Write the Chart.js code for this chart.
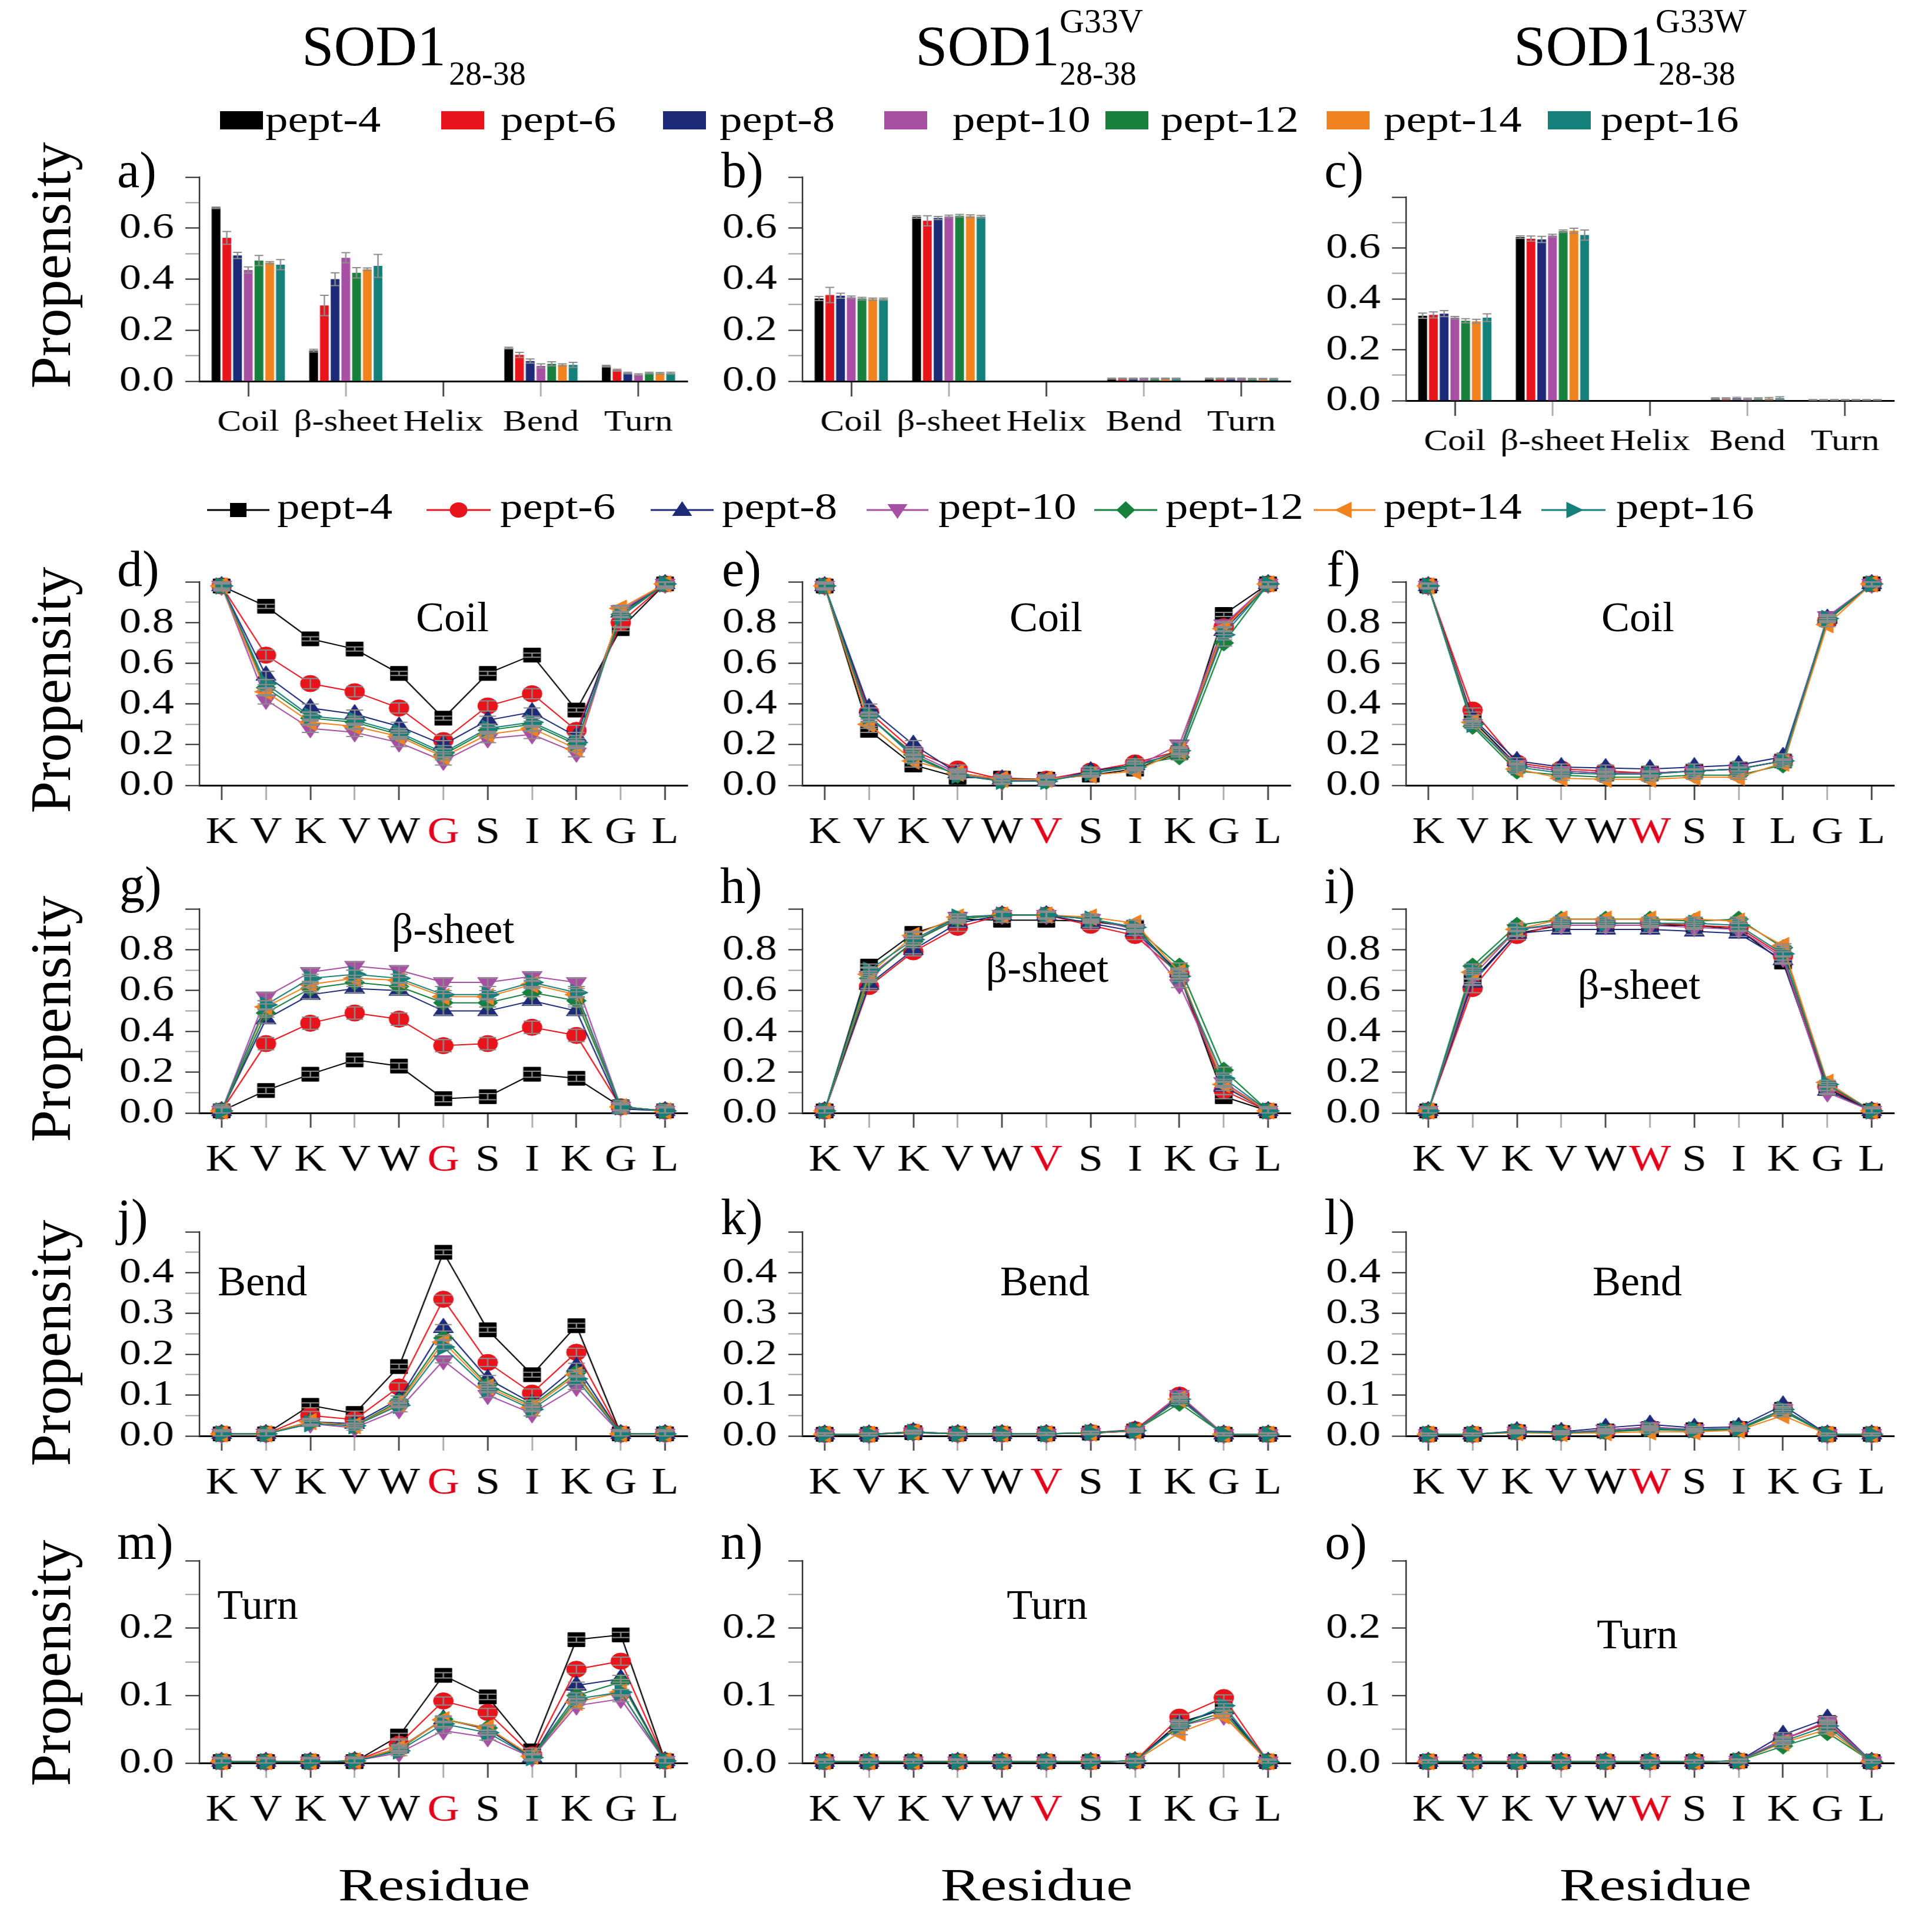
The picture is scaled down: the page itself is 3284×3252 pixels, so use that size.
<!DOCTYPE html>
<html><head><meta charset="utf-8">
<script src="https://cdn.jsdelivr.net/npm/chart.js@4.4.1/dist/chart.umd.min.js"></script>
<style>
html,body{margin:0;padding:0;background:#fff;}
body{width:3284px;height:3252px;position:relative;overflow:hidden;font-family:'Liberation Serif','Times New Roman',serif;}
.t{position:absolute;white-space:nowrap;line-height:1;color:#000;}
canvas{position:absolute;}
svg{position:absolute;left:0;top:0;}
</style></head><body>
<script>
// ---------------- DATA ----------------
const seriesNames = ['pept-4','pept-6','pept-8','pept-10','pept-12','pept-14','pept-16'];
const structCats = ['Coil','β-sheet','Helix','Bend','Turn'];
const residuesWT = ['K','V','K','V','W','G','S','I','K','G','L'];
const residuesV  = ['K','V','K','V','W','V','S','I','K','G','L'];
const residuesWcoil = ['K','V','K','V','W','W','S','I','L','G','L'];
const residuesW  = ['K','V','K','V','W','W','S','I','K','G','L'];

// bar panels (a,b,c): rows = series, columns = Coil, β-sheet, Helix, Bend, Turn
const barWT = [
 [0.680,0.120,0,0.130,0.059],
 [0.562,0.297,0,0.103,0.043],
 [0.493,0.400,0,0.079,0.032],
 [0.436,0.484,0,0.060,0.026],
 [0.473,0.425,0,0.068,0.032],
 [0.465,0.439,0,0.064,0.031],
 [0.457,0.452,0,0.064,0.031]];
const barV = [
 [0.324,0.644,0,0.010,0.010],
 [0.338,0.629,0,0.010,0.010],
 [0.335,0.640,0,0.010,0.010],
 [0.329,0.646,0,0.010,0.010],
 [0.324,0.649,0,0.010,0.009],
 [0.322,0.647,0,0.010,0.009],
 [0.322,0.645,0,0.010,0.009]];
const barW = [
 [0.334,0.643,0,0.008,0.003],
 [0.337,0.637,0,0.008,0.003],
 [0.342,0.634,0,0.009,0.003],
 [0.326,0.649,0,0.007,0.003],
 [0.314,0.666,0,0.008,0.003],
 [0.312,0.668,0,0.008,0.003],
 [0.326,0.651,0,0.010,0.003]];
const errBarWT = [
 [0.003,0.005,0,0.003,0.003],
 [0.025,0.040,0,0.010,0.004],
 [0.012,0.025,0,0.008,0.003],
 [0.012,0.020,0,0.008,0.003],
 [0.020,0.020,0,0.008,0.003],
 [0.004,0.005,0,0.004,0.003],
 [0.020,0.045,0,0.010,0.004]];
const errBarV = [
 [0.008,0.005,0,0.002,0.002],
 [0.030,0.020,0,0.002,0.002],
 [0.010,0.006,0,0.002,0.002],
 [0.005,0.005,0,0.002,0.002],
 [0.005,0.005,0,0.002,0.002],
 [0.004,0.005,0,0.002,0.002],
 [0.004,0.005,0,0.002,0.002]];
const errBarW = [
 [0.010,0.005,0,0.003,0.001],
 [0.012,0.010,0,0.003,0.001],
 [0.012,0.012,0,0.004,0.001],
 [0.005,0.005,0,0.003,0.001],
 [0.008,0.005,0,0.003,0.001],
 [0.008,0.010,0,0.004,0.001],
 [0.015,0.020,0,0.005,0.001]];

// line panels: rows = series, 11 residues each
const coilWT = [
 [0.98,0.88,0.72,0.67,0.55,0.33,0.55,0.64,0.37,0.77,0.99],
 [0.98,0.64,0.50,0.46,0.38,0.22,0.39,0.45,0.27,0.80,0.99],
 [0.98,0.54,0.38,0.35,0.29,0.20,0.32,0.36,0.24,0.85,0.99],
 [0.98,0.42,0.28,0.26,0.21,0.12,0.23,0.25,0.16,0.86,0.99],
 [0.98,0.48,0.33,0.31,0.25,0.15,0.27,0.30,0.20,0.84,0.99],
 [0.98,0.46,0.31,0.29,0.24,0.14,0.25,0.28,0.18,0.87,0.99],
 [0.98,0.50,0.34,0.32,0.26,0.16,0.28,0.31,0.21,0.83,0.99]];
const coilV = [
 [0.98,0.27,0.10,0.04,0.035,0.03,0.05,0.08,0.16,0.84,0.99],
 [0.98,0.36,0.17,0.08,0.03,0.03,0.07,0.11,0.17,0.78,0.99],
 [0.98,0.38,0.20,0.06,0.03,0.02,0.07,0.10,0.16,0.76,0.99],
 [0.98,0.33,0.16,0.06,0.02,0.03,0.06,0.09,0.20,0.79,0.99],
 [0.98,0.34,0.15,0.05,0.02,0.02,0.06,0.10,0.14,0.70,0.99],
 [0.98,0.30,0.12,0.06,0.03,0.03,0.05,0.07,0.17,0.77,0.99],
 [0.98,0.34,0.14,0.05,0.02,0.02,0.06,0.09,0.17,0.74,0.99]];
const coilW = [
 [0.98,0.32,0.10,0.07,0.06,0.06,0.07,0.08,0.12,0.82,0.99],
 [0.98,0.37,0.11,0.08,0.07,0.06,0.07,0.08,0.12,0.81,0.99],
 [0.98,0.33,0.12,0.09,0.085,0.08,0.09,0.10,0.14,0.82,0.99],
 [0.98,0.30,0.10,0.07,0.06,0.06,0.07,0.08,0.12,0.83,0.99],
 [0.98,0.29,0.07,0.05,0.04,0.04,0.05,0.05,0.10,0.81,0.99],
 [0.98,0.31,0.08,0.035,0.03,0.03,0.04,0.04,0.11,0.79,0.99],
 [0.98,0.30,0.09,0.06,0.055,0.055,0.07,0.08,0.12,0.82,0.99]];
const sheetWT = [
 [0.01,0.11,0.19,0.26,0.23,0.07,0.08,0.19,0.17,0.03,0.01],
 [0.01,0.34,0.44,0.49,0.46,0.33,0.34,0.42,0.38,0.03,0.01],
 [0.01,0.46,0.58,0.61,0.60,0.50,0.50,0.55,0.50,0.02,0.01],
 [0.01,0.57,0.69,0.72,0.70,0.64,0.64,0.67,0.64,0.03,0.01],
 [0.01,0.49,0.61,0.64,0.62,0.54,0.54,0.59,0.55,0.03,0.01],
 [0.01,0.52,0.63,0.66,0.65,0.57,0.57,0.63,0.58,0.03,0.01],
 [0.01,0.53,0.66,0.68,0.66,0.58,0.58,0.64,0.59,0.03,0.01]];
const sheetV = [
 [0.01,0.72,0.88,0.95,0.945,0.945,0.94,0.91,0.68,0.08,0.01],
 [0.01,0.62,0.79,0.91,0.97,0.97,0.92,0.87,0.68,0.11,0.01],
 [0.01,0.63,0.80,0.93,0.97,0.97,0.93,0.89,0.69,0.13,0.01],
 [0.01,0.67,0.84,0.96,0.97,0.97,0.95,0.90,0.63,0.15,0.01],
 [0.01,0.66,0.84,0.95,0.97,0.97,0.95,0.91,0.72,0.21,0.01],
 [0.01,0.68,0.87,0.96,0.97,0.97,0.96,0.93,0.69,0.14,0.01],
 [0.01,0.70,0.85,0.96,0.97,0.97,0.95,0.91,0.67,0.17,0.01]];
const sheetW = [
 [0.01,0.65,0.88,0.92,0.92,0.92,0.92,0.90,0.74,0.12,0.01],
 [0.01,0.61,0.87,0.93,0.93,0.93,0.92,0.91,0.77,0.13,0.01],
 [0.01,0.64,0.88,0.90,0.90,0.90,0.89,0.88,0.75,0.11,0.01],
 [0.01,0.67,0.90,0.92,0.92,0.92,0.91,0.90,0.76,0.10,0.01],
 [0.01,0.72,0.92,0.95,0.95,0.95,0.94,0.95,0.81,0.14,0.01],
 [0.01,0.69,0.90,0.95,0.95,0.95,0.95,0.94,0.82,0.15,0.01],
 [0.01,0.70,0.90,0.93,0.93,0.93,0.93,0.92,0.78,0.14,0.01]];
const bendWT = [
 [0.005,0.005,0.075,0.055,0.17,0.45,0.26,0.15,0.27,0.005,0.005],
 [0.005,0.005,0.050,0.040,0.12,0.335,0.18,0.105,0.205,0.005,0.005],
 [0.005,0.005,0.035,0.030,0.09,0.265,0.14,0.08,0.17,0.005,0.005],
 [0.005,0.005,0.030,0.020,0.065,0.185,0.10,0.055,0.12,0.005,0.005],
 [0.005,0.005,0.035,0.025,0.085,0.24,0.125,0.075,0.155,0.005,0.005],
 [0.005,0.005,0.035,0.025,0.08,0.23,0.12,0.07,0.15,0.005,0.005],
 [0.005,0.005,0.030,0.025,0.075,0.218,0.115,0.065,0.14,0.005,0.005]];
const bendV = [
 [0.004,0.004,0.008,0.005,0.005,0.005,0.007,0.012,0.090,0.004,0.004],
 [0.004,0.004,0.010,0.005,0.005,0.005,0.008,0.015,0.100,0.004,0.004],
 [0.004,0.004,0.010,0.005,0.005,0.005,0.008,0.014,0.095,0.004,0.004],
 [0.004,0.004,0.008,0.005,0.005,0.005,0.007,0.012,0.100,0.004,0.004],
 [0.004,0.004,0.008,0.005,0.005,0.005,0.008,0.013,0.080,0.004,0.004],
 [0.004,0.004,0.009,0.005,0.005,0.005,0.007,0.012,0.090,0.004,0.004],
 [0.004,0.004,0.009,0.005,0.005,0.005,0.008,0.013,0.090,0.004,0.004]];
const bendW = [
 [0.004,0.004,0.010,0.008,0.012,0.018,0.015,0.018,0.065,0.004,0.004],
 [0.004,0.004,0.010,0.008,0.012,0.020,0.015,0.018,0.065,0.004,0.004],
 [0.004,0.004,0.012,0.010,0.020,0.028,0.020,0.022,0.075,0.004,0.004],
 [0.004,0.004,0.010,0.008,0.015,0.022,0.016,0.018,0.065,0.004,0.004],
 [0.004,0.004,0.010,0.007,0.010,0.015,0.013,0.016,0.060,0.004,0.004],
 [0.004,0.004,0.008,0.006,0.008,0.010,0.010,0.014,0.050,0.004,0.004],
 [0.004,0.004,0.010,0.008,0.012,0.018,0.015,0.018,0.065,0.004,0.004]];
const turnWT = [
 [0.002,0.002,0.002,0.002,0.040,0.130,0.098,0.018,0.183,0.190,0.003],
 [0.002,0.002,0.002,0.003,0.028,0.092,0.075,0.012,0.139,0.151,0.003],
 [0.002,0.002,0.002,0.003,0.022,0.065,0.050,0.008,0.115,0.125,0.003],
 [0.002,0.002,0.002,0.003,0.015,0.048,0.038,0.008,0.085,0.095,0.003],
 [0.002,0.002,0.002,0.003,0.020,0.065,0.052,0.010,0.100,0.120,0.003],
 [0.002,0.002,0.002,0.003,0.022,0.064,0.052,0.010,0.090,0.105,0.003],
 [0.002,0.002,0.002,0.003,0.018,0.058,0.045,0.008,0.095,0.105,0.003]];
const turnV = [
 [0.002,0.002,0.002,0.002,0.002,0.002,0.002,0.003,0.060,0.080,0.002],
 [0.002,0.002,0.002,0.002,0.002,0.002,0.002,0.003,0.068,0.097,0.002],
 [0.002,0.002,0.002,0.002,0.002,0.002,0.002,0.003,0.058,0.080,0.002],
 [0.002,0.002,0.002,0.002,0.002,0.002,0.002,0.003,0.055,0.070,0.002],
 [0.002,0.002,0.002,0.002,0.002,0.002,0.002,0.003,0.055,0.075,0.002],
 [0.002,0.002,0.002,0.002,0.002,0.002,0.002,0.003,0.045,0.070,0.002],
 [0.002,0.002,0.002,0.002,0.002,0.002,0.002,0.003,0.055,0.085,0.002]];
const turnW = [
 [0.002,0.002,0.002,0.002,0.002,0.002,0.002,0.003,0.035,0.060,0.002],
 [0.002,0.002,0.002,0.002,0.002,0.002,0.002,0.003,0.035,0.060,0.002],
 [0.002,0.002,0.002,0.002,0.002,0.002,0.002,0.003,0.042,0.066,0.002],
 [0.002,0.002,0.002,0.002,0.002,0.002,0.002,0.003,0.035,0.062,0.002],
 [0.002,0.002,0.002,0.002,0.002,0.002,0.002,0.003,0.025,0.045,0.002],
 [0.002,0.002,0.002,0.002,0.002,0.002,0.002,0.003,0.030,0.050,0.002],
 [0.002,0.002,0.002,0.002,0.002,0.002,0.002,0.003,0.032,0.055,0.002]];
// per-series error bar size of line panels
const errCoilWT  = [0.010,0.025,0.020,0.020,0.015,0.015,0.020];
const errCoilV   = [0.010,0.020,0.020,0.015,0.015,0.010,0.015];
const errCoilW   = [0.010,0.010,0.015,0.010,0.010,0.010,0.010];
const errSheetWT = [0.015,0.030,0.020,0.020,0.020,0.015,0.020];
const errSheetV  = [0.010,0.020,0.020,0.015,0.015,0.015,0.015];
const errSheetW  = [0.010,0.020,0.015,0.010,0.010,0.010,0.010];
const errBendWT  = [0.006,0.010,0.008,0.006,0.006,0.006,0.006];
const errBendV   = [0.003,0.004,0.003,0.003,0.003,0.003,0.003];
const errBendW   = [0.003,0.003,0.003,0.003,0.003,0.003,0.003];
const errTurnWT  = [0.004,0.006,0.005,0.004,0.004,0.004,0.004];
const errTurnV   = [0.002,0.004,0.003,0.003,0.003,0.003,0.003];
const errTurnW   = [0.002,0.002,0.003,0.002,0.002,0.002,0.002];

// ---------------- STYLE ----------------
const colors = ['#000000','#e8141c','#1c2a78','#a64fa3','#16803c','#f0821f','#157f7a'];
const pStyles = ['rect','circle','triangle','triangle','rectRot','triangle','triangle'];
const pRots = [0,0,0,180,0,270,90];
const pRadii = [17,14,16.5,16.5,14,16.5,16.5];

Chart.defaults.font.family = "'Liberation Serif','Times New Roman',serif";
Chart.defaults.color = '#000';

const S=1.2, YW=120, PR=60, PT=45, XH=130;
const colL=[339,1364,2390], colR=[1168,2193,3219];
function isMajor(v,m){const q=v/m;return Math.abs(q-Math.round(q))<1e-6;}

const errPlugin={id:'errbars',afterDatasetsDraw(chart){
  const ctx=chart.ctx, ys=chart.scales.y;
  ctx.save(); ctx.strokeStyle='#8c8c8c'; ctx.lineWidth=2;
  chart.data.datasets.forEach((ds,di)=>{
    const meta=chart.getDatasetMeta(di);
    meta.data.forEach((el,i)=>{
      const e=Array.isArray(ds.errs)?ds.errs[i]:ds.errs; if(!e) return;
      const v=ds.data[i];
      const yt=ys.getPixelForValue(Math.min(v+e,ys.max)), yb=ys.getPixelForValue(Math.max(v-e,ys.min));
      const h=ds.capHalf||el.width/2;
      ctx.beginPath();
      ctx.moveTo(el.x,yt);ctx.lineTo(el.x,yb);
      ctx.moveTo(el.x-h,yt);ctx.lineTo(el.x+h,yt);
      ctx.moveTo(el.x-h,yb);ctx.lineTo(el.x+h,yb);
      ctx.stroke();
    });
  });
  ctx.restore();
}};

function build(p){
  const plotW=(colR[p.col]-colL[p.col])/S;
  const W=Math.round(YW+plotW+PR), H=Math.round(PT+(p.bottom-p.top)+XH);
  const c=document.createElement('canvas'); c.width=W; c.height=H;
  c.style.left=(colL[p.col]-YW*S)+'px'; c.style.top=(p.top-PT)+'px';
  c.style.width=W+'px'; c.style.height=H+'px';
  c.style.transform='scaleX('+S+')'; c.style.transformOrigin='0 0';
  document.body.appendChild(c);
  const isBar=p.type==='bar';
  const datasets=p.data.map((vals,i)=>{
    const base={label:seriesNames[i],data:vals,errs:p.err[i]};
    if(isBar) return Object.assign(base,{backgroundColor:colors[i],borderWidth:0,barPercentage:0.82,categoryPercentage:0.77});
    return Object.assign(base,{borderColor:colors[i],backgroundColor:colors[i],borderWidth:2,
      pointStyle:pStyles[i],pointRotation:pRots[i],pointRadius:pRadii[i],pointBorderWidth:1,
      pointBorderColor:colors[i],pointBackgroundColor:colors[i],tension:0,clip:false,order:6-i,capHalf:12});
  });
  new Chart(c,{type:p.type,data:{labels:p.labels,datasets},options:{
    responsive:false,animation:false,events:[],devicePixelRatio:1,
    layout:{padding:{top:PT,right:PR,left:0,bottom:0}},
    plugins:{legend:{display:false},tooltip:{enabled:false}},
    scales:{
      x:{offset:true,afterFit:s=>{s.height=XH;},
        ticks:{autoSkip:false,maxRotation:0,minRotation:0,padding:isBar?14:19,font:{size:isBar?51:63},
          color:ctx=>ctx.index===p.hi?'#e3001b':'#000'},
        grid:{offset:false,drawOnChartArea:false,drawTicks:true,tickLength:isBar?26:25,tickWidth:2,
          tickColor:ctx=>ctx.index%2?'#9a9a9a':'#222'},
        border:{display:true,color:'#000',width:3}},
      y:{min:0,max:p.max,afterFit:s=>{s.width=YW;},
        ticks:{stepSize:p.minor,autoSkip:false,padding:16,font:{size:62},
          callback:v=>(isMajor(v,p.major)&&v<p.max-1e-9)?v.toFixed(1):''},
        grid:{drawOnChartArea:false,drawTicks:true,tickLength:20,tickWidth:2,
          tickColor:ctx=>isMajor(ctx.tick.value,p.major)?'#222':'#9a9a9a'},
        border:{display:true,color:'#333',width:2}}
    }},plugins:[errPlugin]});
}

const panels=[
 {type:'bar',data:barWT,err:errBarWT,labels:structCats,col:0,top:293,bottom:648,max:0.8,minor:0.1,major:0.2},
 {type:'bar',data:barV, err:errBarV, labels:structCats,col:1,top:293,bottom:648,max:0.8,minor:0.1,major:0.2},
 {type:'bar',data:barW, err:errBarW, labels:structCats,col:2,top:327,bottom:681,max:0.8,minor:0.1,major:0.2},
 {type:'line',data:coilWT,err:errCoilWT,labels:residuesWT,hi:5,col:0,top:981,bottom:1335,max:1,minor:0.1,major:0.2},
 {type:'line',data:coilV, err:errCoilV, labels:residuesV, hi:5,col:1,top:981,bottom:1335,max:1,minor:0.1,major:0.2},
 {type:'line',data:coilW, err:errCoilW, labels:residuesWcoil,hi:5,col:2,top:981,bottom:1335,max:1,minor:0.1,major:0.2},
 {type:'line',data:sheetWT,err:errSheetWT,labels:residuesWT,hi:5,col:0,top:1537,bottom:1892,max:1,minor:0.1,major:0.2},
 {type:'line',data:sheetV, err:errSheetV, labels:residuesV, hi:5,col:1,top:1537,bottom:1892,max:1,minor:0.1,major:0.2},
 {type:'line',data:sheetW, err:errSheetW, labels:residuesW, hi:5,col:2,top:1537,bottom:1892,max:1,minor:0.1,major:0.2},
 {type:'line',data:bendWT,err:errBendWT,labels:residuesWT,hi:5,col:0,top:2086,bottom:2441,max:0.5,minor:0.05,major:0.1},
 {type:'line',data:bendV, err:errBendV, labels:residuesV, hi:5,col:1,top:2086,bottom:2441,max:0.5,minor:0.05,major:0.1},
 {type:'line',data:bendW, err:errBendW, labels:residuesW, hi:5,col:2,top:2086,bottom:2441,max:0.5,minor:0.05,major:0.1},
 {type:'line',data:turnWT,err:errTurnWT,labels:residuesWT,hi:5,col:0,top:2645,bottom:2997,max:0.3,minor:0.05,major:0.1},
 {type:'line',data:turnV, err:errTurnV, labels:residuesV, hi:5,col:1,top:2645,bottom:2997,max:0.3,minor:0.05,major:0.1},
 {type:'line',data:turnW, err:errTurnW, labels:residuesW, hi:5,col:2,top:2645,bottom:2997,max:0.3,minor:0.05,major:0.1}
];
panels.forEach(build);

// ---------------- TEXT ----------------
function txt(s,x,base,size,o){
  o=o||{};
  const d=document.createElement('div'); d.className='t'; d.textContent=s;
  const sx=o.sx||1;
  d.style.fontSize=size+'px'; d.style.left=x+'px'; d.style.top=(base-0.8375*size)+'px';
  if(o.color) d.style.color=o.color;
  if(o.anchor==='center'){ d.style.transform='translateX(-50%) scaleX('+sx+')'; }
  else { d.style.transformOrigin='0 0'; d.style.transform='scaleX('+sx+')'; }
  document.body.appendChild(d);
}
function vtxt(s,cx,cy,size){
  const d=document.createElement('div'); d.className='t'; d.textContent=s;
  d.style.fontSize=size+'px'; d.style.left=cx+'px'; d.style.top=cy+'px';
  d.style.transform='translate(-50%,-50%) rotate(-90deg)';
  document.body.appendChild(d);
}
// titles
txt('SOD1',513,111,98); txt('28-38',763,144,56);
txt('SOD1',1556,111,98); txt('G33V',1801,56,58); txt('28-38',1801,144,56);
txt('SOD1',2573,111,98); txt('G33W',2814,56,58); txt('28-38',2819,144,56);
// panel letters
[['a)',199,318],['b)',1226,318],['c)',2251,318],
 ['d)',199,996],['e)',1227,996],['f)',2255,996],
 ['g)',203,1533],['h)',1224,1535],['i)',2251,1535],
 ['j)',199,2098],['k)',1225,2098],['l)',2251,2098],
 ['m)',199,2650],['n)',1225,2650],['o)',2252,2650]].forEach(a=>txt(a[0],a[1],a[2],86));
// annotations
[['Coil',769,1073],['Coil',1778,1073],['Coil',2784,1073],
 ['β-sheet',770,1603],['β-sheet',1780,1669],['β-sheet',2786,1698],
 ['Bend',446,2202],['Bend',1776,2202],['Bend',2783,2202],
 ['Turn',438,2752],['Turn',1780,2752],['Turn',2783,2802]].forEach(a=>txt(a[0],a[1],a[2],72,{anchor:'center'}));
// axis titles
[451,1173,1732,2283,2827].forEach(y=>vtxt('Propensity',86,y,98));
[738,1762,2814].forEach(x=>txt('Residue',x,3230,78,{anchor:'center',sx:1.3}));

// ---------------- LEGENDS ----------------
const barBoxX=[374,750,1127,1503,1879,2255,2631];
const barTextX=[451,851,1223,1619,1973,2352,2721];
const lineSeg=[[352,458],[725,834],[1106,1213],[1473,1578],[1860,1967],[2233,2338],[2620,2729]];
const lineTextX=[471,850,1227,1595,1981,2352,2747];
function shape(i,cx,cy){
  const c=colors[i];
  const poly=pts=>'<polygon points="'+pts.map(p=>(cx+p[0])+','+(cy+p[1])).join(' ')+'" fill="'+c+'"/>';
  switch(i){
    case 0: return '<rect x="'+(cx-14)+'" y="'+(cy-12)+'" width="28" height="24" fill="'+c+'"/>';
    case 1: return '<ellipse cx="'+cx+'" cy="'+cy+'" rx="15" ry="13" fill="'+c+'"/>';
    case 2: return poly([[0,-15],[17,10],[-17,10]]);
    case 3: return poly([[0,15],[17,-10],[-17,-10]]);
    case 4: return poly([[0,-15],[16,0],[0,15],[-16,0]]);
    case 5: return poly([[-17,0],[12,-14],[12,14]]);
    default: return poly([[17,0],[-12,-14],[-12,14]]);
  }
}
let svg='<svg width="3284" height="3252" xmlns="http://www.w3.org/2000/svg">';
barBoxX.forEach((x,i)=>{svg+='<rect x="'+x+'" y="189" width="73" height="31" fill="'+colors[i]+'"/>';});
lineSeg.forEach((s,i)=>{
  svg+='<line x1="'+s[0]+'" y1="867" x2="'+s[1]+'" y2="867" stroke="'+colors[i]+'" stroke-width="3"/>';
  svg+=shape(i,(s[0]+s[1])/2,867);
});
svg+='</svg>';
const holder=document.createElement('div'); holder.innerHTML=svg; document.body.appendChild(holder.firstChild);
seriesNames.forEach((n,i)=>{ txt(n,barTextX[i],225,64,{sx:1.2}); txt(n,lineTextX[i],883,64,{sx:1.2}); });
</script>
</body></html>
